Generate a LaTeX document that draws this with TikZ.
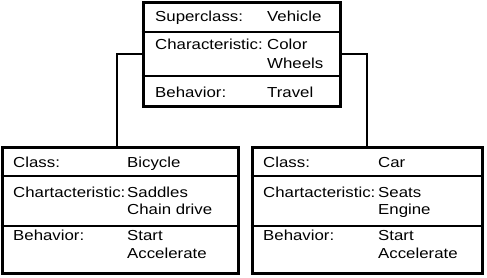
\documentclass[tikz,border=0pt]{standalone}
\usepackage{fontspec}
\setmainfont[FakeStretch=1.16]{Liberation Sans}
\begin{document}
\begin{tikzpicture}[x=1pt, y=-1pt, font=\fontsize{14.5}{17}\selectfont,
        classbox/.style={draw, rectangle, line width=3pt, inner sep=0pt},
        divider/.style={line width=2pt},
        link/.style={line width=2pt},
        txt/.style={anchor=base west, inner sep=0pt}]
        \useasboundingbox (0,0) rectangle (487,278);

        % Superclass
        \node[classbox, minimum width=197pt, minimum height=103pt] (super) at (241.5, 54.5) {};
        \draw[divider] (super.west |- 0,32) -- (super.east |- 0,32);
        \draw[divider] (super.west |- 0,76) -- (super.east |- 0,76);
        \node[txt] (superKey) at (155, 22) {Superclass:};
        \node[txt] (superVal) at (267, 22) {Vehicle};
        \node[txt] (charKey) at (155, 50) {Characteristic:};
        \node[txt] (charVal) at (267, 50) {Color};
        \node[txt] (charVal2) at (267, 68) {Wheels};
        \node[txt] (behKey) at (155, 97) {Behavior:};
        \node[txt] (behVal) at (267, 97) {Travel};

        % Bicycle
        \node[classbox, minimum width=236pt, minimum height=126pt] (bike) at (120, 210) {};
        \draw[divider] (bike.west |- 0,176) -- (bike.east |- 0,176);
        \draw[divider] (bike.west |- 0,226) -- (bike.east |- 0,226);
        \node[txt] (bikeKey) at (13, 167) {Class:};
        \node[txt] (bikeVal) at (127, 167) {Bicycle};
        \node[txt] (bikeCharKey) at (13, 197) {Chartacteristic:};
        \node[txt] (bikeCharVal) at (127, 197) {Saddles};
        \node[txt] (bikeCharVal2) at (127, 214) {Chain drive};
        \node[txt] (bikeBehKey) at (13, 240) {Behavior:};
        \node[txt] (bikeBehVal) at (127, 240) {Start};
        \node[txt] (bikeBehVal2) at (127, 258) {Accelerate};

        % Car
        \node[classbox, minimum width=230pt, minimum height=126pt] (car) at (367, 210) {};
        \draw[divider] (car.west |- 0,176) -- (car.east |- 0,176);
        \draw[divider] (car.west |- 0,226) -- (car.east |- 0,226);
        \node[txt] (carKey) at (263, 167) {Class:};
        \node[txt] (carVal) at (378, 167) {Car};
        \node[txt] (carCharKey) at (263, 197) {Chartacteristic:};
        \node[txt] (carCharVal) at (378, 197) {Seats};
        \node[txt] (carCharVal2) at (378, 214) {Engine};
        \node[txt] (carBehKey) at (263, 240) {Behavior:};
        \node[txt] (carBehVal) at (378, 240) {Start};
        \node[txt] (carBehVal2) at (378, 258) {Accelerate};

        % Relations
        \draw[link] (super.west) -| ([xshift=-3pt]bike.north);
        \draw[link] (super.east) -| (car.north);
    \end{tikzpicture}
\end{document}
